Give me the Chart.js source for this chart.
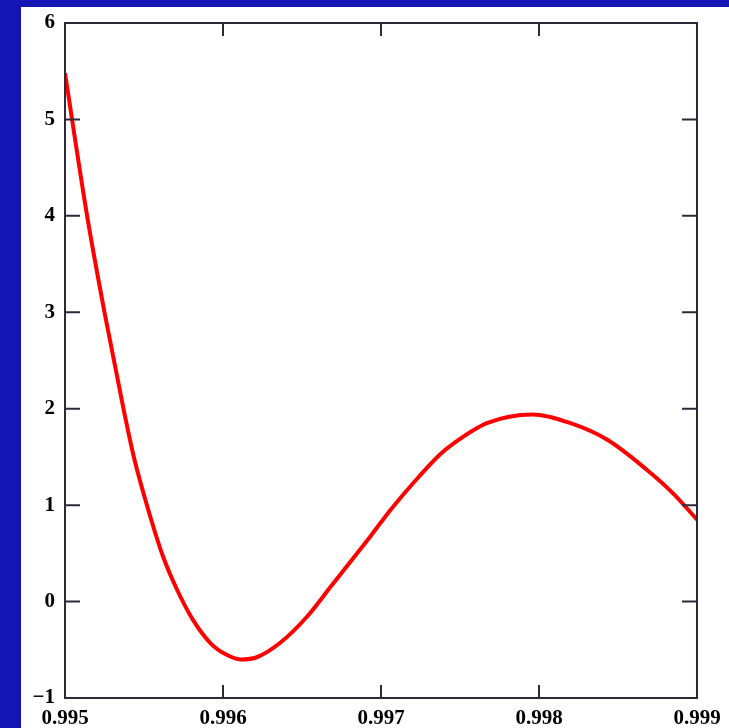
<!DOCTYPE html>
<html>
<head>
<meta charset="utf-8">
<script src="https://cdn.jsdelivr.net/npm/chart.js@4"></script>
<style>
  html, body { margin: 0; padding: 0; background: #1515b5; }
  #wrap { position: relative; width: 729px; height: 728px; }
</style>
</head>
<body>
<div id="wrap"><canvas id="chart"></canvas></div>
<script>
// curve
const xValues = [0.99500, 0.99514, 0.99525, 0.99537, 0.99544, 0.99554,
  0.99562, 0.99571, 0.99581, 0.99592, 0.99602, 0.99611, 0.99621, 0.99636, 0.99653,
  0.99668, 0.99680, 0.99693, 0.99706, 0.99721, 0.99737, 0.99746, 0.99767, 0.99796,
  0.99820, 0.99843, 0.99868, 0.99885, 0.99900];
const yValues = [5.48, 4.00, 3.00, 2.00, 1.47, 0.88,
  0.47, 0.12, -0.19, -0.43, -0.55, -0.60, -0.58, -0.43, -0.16,
  0.15, 0.40, 0.67, 0.95, 1.24, 1.52, 1.64, 1.85, 1.94,
  1.85, 1.68, 1.37, 1.12, 0.85];
const xTicks = [0.995, 0.996, 0.997, 0.998, 0.999];
const yTicks = [-1, 0, 1, 2, 3, 4, 5, 6];

const points = xValues.map((x, i) => ({x: x, y: yValues[i]}));
const tickFont = {family: '"Liberation Serif", "DejaVu Serif", serif', size: 21, weight: 'bold'};

// blue page with the white sheet on it
const sheet = {
  id: 'sheet',
  beforeDraw(chart) {
    const ctx = chart.ctx;
    ctx.save();
    ctx.fillStyle = '#1515b5';
    ctx.fillRect(0, 0, chart.width, chart.height);
    ctx.fillStyle = '#ffffff';
    ctx.fillRect(21, 7, chart.width - 21, chart.height - 7);
    ctx.restore();
  }
};

// box round the plot, ticks pointing inward on all four sides
const frame = {
  id: 'frame',
  afterDraw(chart) {
    const ctx = chart.ctx, a = chart.chartArea;
    const xs = chart.scales.x, ys = chart.scales.y;
    ctx.save();
    ctx.strokeStyle = '#2e2838';
    ctx.lineWidth = 2;
    ctx.strokeRect(a.left, a.top, a.right - a.left, a.bottom - a.top);
    ctx.beginPath();
    yTicks.forEach(v => {
      const py = ys.getPixelForValue(v);
      ctx.moveTo(a.left, py); ctx.lineTo(a.left + 15, py);
      ctx.moveTo(a.right, py); ctx.lineTo(a.right - 15, py);
    });
    xTicks.forEach(v => {
      const px = xs.getPixelForValue(v);
      ctx.moveTo(px, a.bottom); ctx.lineTo(px, a.bottom - 13);
      ctx.moveTo(px, a.top); ctx.lineTo(px, a.top + 13);
    });
    ctx.stroke();
    ctx.restore();
  }
};

new Chart(document.getElementById('chart'), {
  type: 'scatter',
  data: {
    datasets: [{
      data: points,
      showLine: true,
      borderColor: '#ff0000',
      borderWidth: 4,
      pointRadius: 0,
      cubicInterpolationMode: 'monotone'
    }]
  },
  options: {
    responsive: true,
    maintainAspectRatio: false,
    animation: false,
    layout: {padding: {left: 0, top: 23, right: 32, bottom: 0}},
    plugins: {legend: {display: false}, tooltip: {enabled: false}},
    scales: {
      x: {
        type: 'linear',
        min: 0.995, max: 0.999,
        afterBuildTicks: s => { s.ticks = xTicks.map(v => ({value: v})); },
        afterFit: s => { s.height = 30; },
        grid: {display: false, drawTicks: false},
        border: {display: false},
        ticks: {
          color: '#000', font: tickFont, padding: 8, maxRotation: 0,
          callback: v => v.toFixed(3)
        }
      },
      y: {
        min: -1, max: 6,
        afterBuildTicks: s => { s.ticks = yTicks.map(v => ({value: v})); },
        afterFit: s => { s.width = 65; },
        grid: {display: false, drawTicks: false},
        border: {display: false},
        ticks: {
          color: '#000', font: tickFont, padding: 10,
          callback: v => v < 0 ? '\u2212' + Math.abs(v) : String(v)
        }
      }
    }
  },
  plugins: [sheet, frame]
});
</script>
</body>
</html>
